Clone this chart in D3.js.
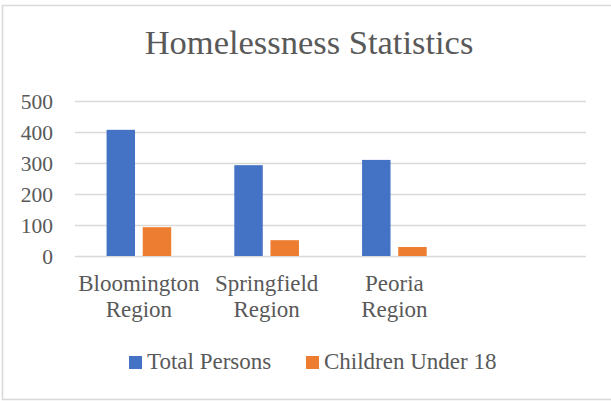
<!DOCTYPE html>
<html>
<head>
<meta charset="utf-8">
<script src="https://cdn.jsdelivr.net/npm/d3@7/dist/d3.min.js"></script>
<style>
  html, body { margin: 0; padding: 0; background: #fff; }
  svg { display: block; }
  text { font-family: "Liberation Serif", "Times New Roman", serif; fill: #595959; }
</style>
</head>
<body>
<svg id="chart" width="611" height="401"></svg>
<script>
// Regions on the category axis (the last slot is an unused blank category)
const categories = ["Bloomington Region", "Springfield Region", "Peoria Region", ""];
const seriesNames = ["Total Persons", "Children Under 18"];
const totalPersons = [407, 293, 310, null];
const childrenUnder18 = [93, 51, 29, null];
const yTicks = [0, 100, 200, 300, 400, 500];
const chartTitle = "Homelessness Statistics";

const colors = ["#4472C4", "#ED7D31"];
const seriesValues = [totalPersons, childrenUnder18];

const svg = d3.select("#chart");

// Chart area frame
svg.append("rect")
  .attr("x", 2.5).attr("y", 5.5)
  .attr("width", 640).attr("height", 394)
  .attr("fill", "#fff")
  .attr("stroke", "#d9d9d9").attr("stroke-width", 1.5);

// Title
svg.append("text")
  .attr("x", 309).attr("y", 54)
  .attr("text-anchor", "middle")
  .style("font-size", "34.5px")
  .text(chartTitle);

const plot = { left: 75, right: 586, top: 101, bottom: 256 };

const x = d3.scaleBand()
  .domain(d3.range(categories.length))
  .range([plot.left, plot.right])
  .paddingInner(0).paddingOuter(0);

const groupWidth = x.bandwidth() * 0.506;
const xInner = d3.scaleBand()
  .domain(d3.range(seriesNames.length))
  .range([0, groupWidth])
  .paddingInner(0.213).paddingOuter(0);

const y = d3.scaleLinear()
  .domain([0, 500])
  .range([plot.bottom, plot.top]);

// Horizontal gridlines
const grid = svg.append("g")
  .attr("transform", `translate(${plot.left},0)`)
  .call(d3.axisLeft(y).tickValues(yTicks).tickSize(-(plot.right - plot.left)).tickFormat(""));
grid.select(".domain").remove();
grid.selectAll("line").attr("stroke", "#d9d9d9").attr("stroke-width", 1.5);

// Value axis labels
const yAxis = svg.append("g")
  .attr("transform", `translate(53,0)`)
  .call(d3.axisLeft(y).tickValues(yTicks).tickSize(0).tickPadding(0));
yAxis.select(".domain").remove();
yAxis.selectAll("text")
  .style("font-size", "21.5px")
  .attr("dy", "0.34em")
  .attr("fill", "#595959");

// Bars
const groups = svg.append("g").selectAll("g")
  .data(categories.map((c, i) => ({ c, i })))
  .join("g")
  .attr("transform", d => `translate(${x(d.i) + (x.bandwidth() - groupWidth) / 2},0)`);

groups.selectAll("rect")
  .data(d => seriesValues.map((vals, s) => ({ s, v: vals[d.i] })).filter(e => e.v != null))
  .join("rect")
  .attr("x", e => xInner(e.s))
  .attr("width", xInner.bandwidth())
  .attr("y", e => y(e.v))
  .attr("height", e => y(0) - y(e.v))
  .attr("fill", e => colors[e.s]);

// Category axis labels (two lines each)
const xAxis = svg.append("g")
  .attr("transform", `translate(0,${plot.bottom})`)
  .call(d3.axisBottom(x).tickSize(0).tickFormat(""));
xAxis.select(".domain").remove();
xAxis.selectAll(".tick").each(function(d) {
  const words = categories[d].split(" ").filter(w => w);
  const t = d3.select(this).append("text")
    .attr("text-anchor", "middle")
    .style("font-size", "23px")
    .attr("fill", "#595959");
  words.forEach((w, k) => {
    t.append("tspan").attr("x", 0).attr("y", 35 + k * 26).text(w);
  });
});

// Legend
const legendItems = [
  { name: seriesNames[0], color: colors[0], x: 129 },
  { name: seriesNames[1], color: colors[1], x: 306 }
];
const legend = svg.append("g");
legendItems.forEach(item => {
  legend.append("rect")
    .attr("x", item.x).attr("y", 356)
    .attr("width", 13).attr("height", 13)
    .attr("fill", item.color);
  legend.append("text")
    .attr("x", item.x + 18).attr("y", 369)
    .style("font-size", "23px")
    .text(item.name);
});
</script>
</body>
</html>
